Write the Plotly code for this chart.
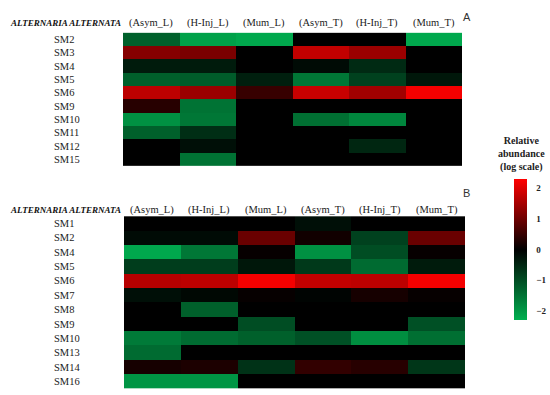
import plotly.graph_objects as go

# column treatments and row labels
cols = ['Asym_L', 'H-Inj_L', 'Mum_L', 'Asym_T', 'H-Inj_T', 'Mum_T']
col_labels = ['(Asym_L)', '(H-Inj_L)', '(Mum_L)', '(Asym_T)', '(H-Inj_T)', '(Mum_T)']

rows_a = ['SM2', 'SM3', 'SM4', 'SM5', 'SM6', 'SM9', 'SM10', 'SM11', 'SM12', 'SM15']
z_a = [
    [-1.25, -2.1, -2.2, 0.0, 0.0, -2.2],
    [1.2, 1.1, 0.0, 1.75, 1.4, 0.0],
    [-0.35, -0.35, 0.0, -0.15, -0.55, 0.0],
    [-1.25, -1.2, -0.4, -1.55, -0.85, -0.3],
    [1.7, 1.4, 0.5, 1.8, 1.45, 2.2],
    [0.35, -1.5, 0.0, 0.0, 0.0, 0.0],
    [-1.9, -1.55, 0.0, -1.45, -1.75, 0.0],
    [-1.25, -0.6, 0.0, 0.0, 0.0, 0.0],
    [0.0, -0.2, 0.0, 0.0, -0.5, 0.0],
    [0.0, -1.5, 0.0, 0.0, 0.0, 0.0],
]

rows_b = ['SM1', 'SM2', 'SM4', 'SM5', 'SM6', 'SM7', 'SM8', 'SM9', 'SM10', 'SM13', 'SM14', 'SM16']
z_b = [
    [0.0, 0.0, 0.0, -0.2, 0.0, 0.0],
    [-0.15, -0.15, 0.95, 0.15, -0.85, 0.95],
    [-2.2, -1.55, 0.05, -1.9, -1.0, 0.05],
    [-0.8, -0.8, -0.3, -0.75, -1.4, -0.35],
    [1.65, 1.7, 2.2, 1.75, 1.7, 2.2],
    [-0.2, -0.1, 0.05, -0.05, 0.2, 0.05],
    [0.0, -1.25, 0.0, 0.0, 0.0, 0.0],
    [0.0, 0.0, -1.0, 0.0, 0.0, -1.05],
    [-1.6, -1.4, -1.25, -1.05, -1.85, -1.45],
    [-1.4, 0.0, 0.0, 0.0, 0.0, 0.0],
    [0.2, 0.25, -0.65, 0.45, 0.35, -0.7],
    [-1.95, -1.95, 0.0, 0.0, 0.0, 0.0],
]

cbar_ticks = [-2, -1, 0, 1, 2]

W, H = 550, 395
SERIF = 'Liberation Serif'


def px_x(p):
    return p / W


def px_y(p):
    return 1 - p / H


fig = go.Figure()

fig.add_trace(go.Heatmap(z=z_a, x=cols, y=rows_a, coloraxis='coloraxis',
                         xaxis='x', yaxis='y'))
fig.add_trace(go.Heatmap(z=z_b, x=cols, y=rows_b, coloraxis='coloraxis',
                         xaxis='x2', yaxis='y2'))

ann = []
# panel headers
for ref, yhead in (('x', 23.5), ('x2', 210)):
    ann.append(dict(text='<b><i>ALTERNARIA ALTERNATA</i></b>', x=px_x(8), y=px_y(yhead),
                    xref='paper', yref='paper', xanchor='left', yanchor='middle',
                    showarrow=False, font=dict(family=SERIF, size=9, color='#111')))
    for c, lab in zip(cols, col_labels):
        ann.append(dict(text=lab, x=c, y=px_y(yhead), xref=ref, yref='paper',
                        xanchor='center', yanchor='middle', showarrow=False,
                        font=dict(family=SERIF, size=10.5, color='#222')))

for yref, rows in (('y', rows_a), ('y2', rows_b)):
    for r in rows:
        ann.append(dict(text=r, x=px_x(52), y=r, xref='paper', yref=yref, xanchor='left',
                        yanchor='middle', showarrow=False,
                        font=dict(family=SERIF, size=10.5, color='#222')))

# panel letters
ann.append(dict(text='A', x=px_x(473), y=px_y(9), xref='paper', yref='paper',
                showarrow=False, font=dict(family='Liberation Sans', size=11, color='#333')))
ann.append(dict(text='B', x=px_x(472), y=px_y(193), xref='paper', yref='paper',
                showarrow=False, font=dict(family='Liberation Sans', size=11, color='#333')))

# colorbar title
ann.append(dict(text='<b>Relative<br>abundance<br>(log scale)</b>', x=px_x(521), y=px_y(154),
                xref='paper', yref='paper', xanchor='center', yanchor='middle',
                showarrow=False, align='center',
                font=dict(family=SERIF, size=10, color='#222')))

axis_off = dict(showticklabels=False, showgrid=False, zeroline=False, ticks='', showline=False)

fig.update_layout(
    width=W, height=H,
    margin=dict(l=0, r=0, t=0, b=0),
    paper_bgcolor='white', plot_bgcolor='white',
    font=dict(family=SERIF, color='#222'),
    xaxis=dict(domain=[px_x(123), px_x(462)], anchor='y', **axis_off),
    yaxis=dict(domain=[px_y(167), px_y(32)], anchor='x', autorange='reversed', **axis_off),
    xaxis2=dict(domain=[px_x(124), px_x(465)], anchor='y2', **axis_off),
    yaxis2=dict(domain=[px_y(389), px_y(216)], anchor='x2', autorange='reversed', **axis_off),
    coloraxis=dict(
        cmin=-2.3, cmax=2.3,
        colorscale=[[0, '#00b050'], [0.5, '#000000'], [1, '#ff0000']],
        colorbar=dict(
            thickness=13, len=141 / H, lenmode='fraction',
            x=px_x(514), xanchor='left', y=px_y(249.5), yanchor='middle',
            xpad=0, ypad=0, outlinewidth=0,
            tickvals=cbar_ticks, ticks='outside', ticklen=8,
            tickcolor='rgba(0,0,0,0)',
            tickfont=dict(family=SERIF, size=9, color='#222', weight='bold'),
        ),
    ),
    annotations=ann,
)

# drop the default page margin so the figure fills the window exactly
fig.write_html('out.html', config={'displayModeBar': False},
               post_script="document.body.style.margin='0';document.body.style.overflow='hidden';")
